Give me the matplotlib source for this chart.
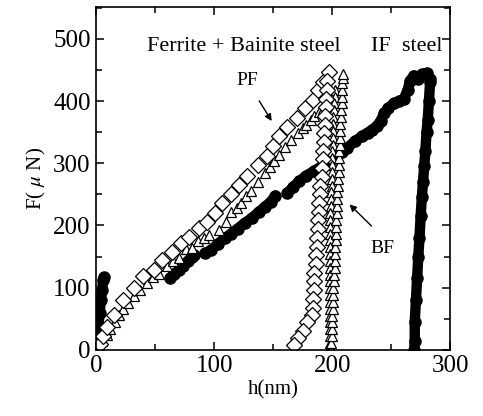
import numpy as np
import matplotlib
matplotlib.use("Agg")
import matplotlib.pyplot as plt
from matplotlib.ticker import MultipleLocator

plt.rcParams['font.family'] = ['Liberation Serif', 'DejaVu Serif']
plt.rcParams['mathtext.fontset'] = 'stix'

# PF (ferrite + bainite steel), open diamonds: loading then unloading
pf_h = [0, 3, 6, 9, 15, 23, 32, 40, 49, 56, 64, 72, 79, 87, 94, 101, 107, 114,
        121, 128, 137, 145, 150, 155, 162, 170, 177, 184, 188, 192, 197,
        196, 196, 195, 195, 194, 194, 193, 193, 192, 192, 191, 191, 190, 190,
        189, 189, 188, 188, 187, 187, 186, 186, 185, 185, 185, 184, 184, 183,
        179, 175, 171, 168]
pf_F = [0, 10, 22, 37, 56, 80, 99, 118, 129, 145, 158, 171, 182, 196, 206, 220,
        236, 250, 265, 279, 297, 311, 327, 343, 359, 373, 389, 402, 418, 431, 446,
        432, 418, 404, 390, 376, 362, 348, 334, 320, 306, 292, 278, 264, 250,
        236, 222, 208, 194, 180, 166, 152, 138, 124, 110, 96, 82, 68, 56,
        44, 31, 19, 8]

# BF (ferrite + bainite steel), open triangles
bf_h = [0, 5, 9, 12, 16, 19, 23, 27, 32, 37, 43, 48, 53, 60, 65, 70, 76, 81,
        86, 91, 96, 104, 110, 114, 119, 123, 127, 131, 137, 143, 147, 151, 155,
        160, 165, 171, 175, 178, 182, 185, 189, 192, 195, 198, 202,
        202, 202, 201.5, 201.5, 201, 201, 201, 200.5, 200.5, 200, 200, 200,
        199.5, 199.5, 199.5, 199, 199, 199, 198.5, 198.5, 198.5, 198, 198,
        198, 198, 198, 198, 198, 198, 198, 198, 198, 198, 198, 198, 198, 198,
        198, 198, 198, 198]
bf_F = [2, 14, 24, 33, 45, 56, 66, 76, 86, 96, 107, 117, 122, 134, 143, 148,
        162, 164, 175, 180, 184, 192, 205, 222, 228, 236, 247, 256, 270, 284,
        294, 303, 314, 326, 337, 348, 357, 362, 370, 376, 382, 387, 392, 397, 406,
        418, 407, 396, 385, 374, 363, 352, 341, 330, 319, 308, 297,
        286, 275, 264, 253, 242, 231, 220, 209, 198, 187, 176,
        165, 154, 143, 132, 121, 110, 99, 88, 77, 66, 55, 44, 33, 22,
        11, 5, 2, 0]

# BF second branch (right strand of the column)
bf2_h = [199, 199, 199.5, 199.5, 200, 200, 200.5, 200.5, 201, 201, 201.5,
         201.5, 202, 202, 202.5, 202.5, 203, 203, 203.5, 203.5, 204, 204,
         204.5, 204.5, 205, 205, 205.5, 205.5, 206, 206, 206.5, 206.5, 207,
         207, 207.5, 207.5, 208, 208, 208.5, 208.5, 209, 209.5]
bf2_F = [0, 11, 22, 33, 44, 55, 66, 77, 88, 99, 110, 121, 132, 143, 154, 165,
         176, 187, 198, 209, 220, 231, 242, 253, 264, 275, 286, 297, 308, 319,
         330, 341, 352, 363, 374, 385, 396, 407, 418, 429, 437, 443]

# IF steel, filled circles (nan = gap in the record)
if_h = [0, 1, 2, 3, 4, 5, 6, 7, np.nan,
        63, 66, 70, 74, 78, 81, 83, np.nan,
        92, 97, 103, 109, 114, 120, 126, 132, 138, 143, 148, 152, np.nan,
        162, 167, 172, 178, 185, 191, 197, 203, 208, 213, 219, 225, 230, 234,
        238, 241, 244, 247, 252, 257, 261, 264, 266, 269, 273, 276, 280, 283,
        283, 282, 281, 280, 279, 278, 277, 276, 275, 274, 273, 272, 271, 270,
        270, 269.5]
if_F = [3, 20, 40, 60, 80, 97, 112, 117, np.nan,
        116, 122, 128, 135, 143, 150, 153, np.nan,
        155, 160, 170, 180, 186, 195, 204, 212, 222, 230, 238, 248, np.nan,
        252, 262, 271, 280, 288, 295, 302, 308, 318, 325, 335, 343, 349, 354,
        360, 368, 380, 388, 396, 400, 404, 418, 432, 441, 436, 443, 445, 436,
        430, 400, 370, 350, 320, 295, 270, 245, 215, 180, 150, 115, 80, 45,
        15, 0]

fig = plt.figure(figsize=(4.83, 4.16), dpi=100)
ax = fig.add_axes([0.199, 0.159, 0.733, 0.824])

ax.plot(if_h, if_F, 'o-', color='black', ms=8, lw=7.5, solid_capstyle='round')
ax.plot(bf_h, bf_F, '^', mfc='white', mec='black', mew=0.9, ms=7, ls='none')
ax.plot(bf2_h, bf2_F, '^', mfc='white', mec='black', mew=0.9, ms=7, ls='none')
ax.plot(pf_h, pf_F, 'D', mfc='white', mec='black', mew=0.9, ms=8, ls='none')

ax.set_xlim(0, 300)
ax.set_ylim(0, 551)
ax.xaxis.set_major_locator(MultipleLocator(100))
ax.xaxis.set_minor_locator(MultipleLocator(50))
ax.yaxis.set_major_locator(MultipleLocator(100))
ax.yaxis.set_minor_locator(MultipleLocator(50))
ax.tick_params(which='both', direction='in', top=True, right=True, width=1.1)
ax.tick_params(which='major', length=6, labelsize=18, pad=4)
ax.tick_params(which='minor', length=4)
for s in ax.spines.values():
    s.set_linewidth(1.2)

ax.set_xlabel('h(nm)', fontsize=15, labelpad=2)
ax.set_ylabel('F( $\\mu$ N)', fontsize=15, labelpad=4)

ax.text(125, 487, 'Ferrite + Bainite steel', fontsize=16, ha='center', va='center')
ax.text(263, 487, 'IF  steel', fontsize=16, ha='center', va='center')
ax.text(128, 433, 'PF', fontsize=14, ha='center', va='center')
ax.text(243, 163, 'BF', fontsize=14, ha='center', va='center')
ax.annotate('', xy=(150, 364), xytext=(137, 404),
            arrowprops=dict(arrowstyle='-|>', color='black', lw=1, mutation_scale=10))
ax.annotate('', xy=(213, 237), xytext=(235, 196),
            arrowprops=dict(arrowstyle='-|>', color='black', lw=1, mutation_scale=10))

fig.savefig('out.png', dpi=100)
